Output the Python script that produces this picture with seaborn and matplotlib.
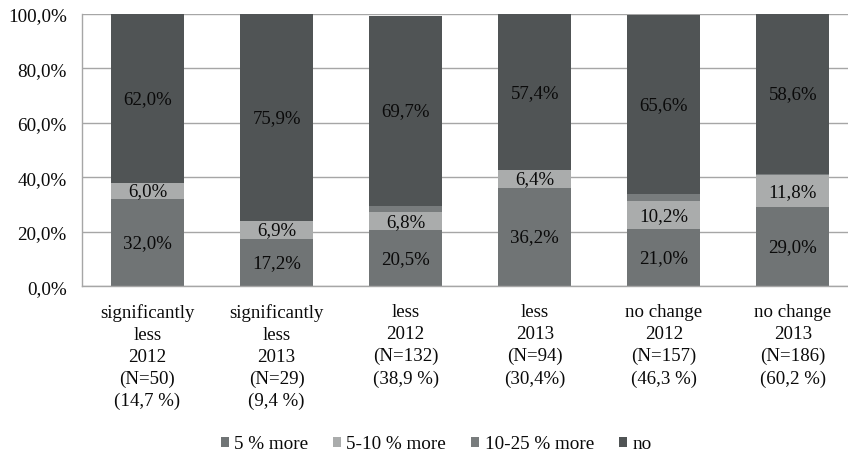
import matplotlib
matplotlib.use("Agg")
import matplotlib.pyplot as plt
import seaborn as sns
import numpy as np
import pandas as pd

groups = [
    "significantly\nless\n2012\n(N=50)\n(14,7 %)",
    "significantly\nless\n2013\n(N=29)\n(9,4 %)",
    "less\n2012\n(N=132)\n(38,9 %)",
    "less\n2013\n(N=94)\n(30,4%)",
    "no change\n2012\n(N=157)\n(46,3 %)",
    "no change\n2013\n(N=186)\n(60,2 %)",
]
series = ["5 % more", "5-10 % more", "10-25 % more", "no"]
more_5 = [32.0, 17.2, 20.5, 36.2, 21.0, 29.0]
more_5_10 = [6.0, 6.9, 6.8, 6.4, 10.2, 11.8]
more_10_25 = [0.0, 0.0, 2.3, 0.0, 2.7, 0.6]
no_more = [62.0, 75.9, 69.7, 57.4, 65.6, 58.6]
# which series carry printed values
labelled = [True, True, False, True]
colors = ["#707475", "#aaacac", "#787c7d", "#505455"]

values = [more_5, more_5_10, more_10_25, no_more]

sns.set_style("white")
plt.rcParams["font.family"] = ["Liberation Serif", "DejaVu Serif"]

fig = plt.figure(figsize=(8.48, 4.52), dpi=100)
ax = fig.add_axes([82 / 848, 1 - 287.3 / 452, 774.6 / 848, 272.3 / 452])

bottom = np.zeros(len(groups))
for name, vals, col, show in zip(series, values, colors, labelled):
    df = pd.DataFrame({"group": groups, "value": vals})
    n_before = len(ax.containers)
    sns.barplot(data=df, x="group", y="value", color=col, saturation=1,
                width=0.565, bottom=bottom.copy(), label=name, ax=ax,
                edgecolor="none", linewidth=0)
    cont = ax.containers[n_before]
    texts = [(f"{v:.1f}%".replace(".", ",") if show and v > 0 else "")
             for v in vals]
    ax.bar_label(cont, labels=texts, label_type="center", fontsize=13.6,
                 color="#0a0a0a")
    bottom = bottom + np.array(vals)

ax.set_xlim(-0.507, 5.493)
ax.set_ylim(0, 100)
ax.set_yticks(np.arange(0, 101, 20))
ax.set_yticklabels([f"{v:.1f}%".replace(".", ",") for v in np.arange(0, 101, 20)],
                   fontsize=13.8, color="#0a0a0a")
ax.set_xlabel("")
ax.set_ylabel("")
ax.tick_params(axis="x", labelsize=13.6, pad=12, length=0, labelcolor="#0a0a0a")
ax.tick_params(axis="y", pad=11, length=0)
for lab in ax.get_xticklabels():
    lab.set_linespacing(1.38)
ax.grid(axis="y", color="#a6a6a6", linewidth=1)
ax.set_axisbelow(True)
for side in ["top", "right"]:
    ax.spines[side].set_visible(False)
for side in ["left", "bottom"]:
    ax.spines[side].set_color("#a6a6a6")
    ax.spines[side].set_linewidth(1)

if ax.get_legend() is not None:
    ax.get_legend().remove()
handles, labels = ax.get_legend_handles_labels()
fig.legend(handles, labels, loc="center", bbox_to_anchor=(436 / 848, 1 - 445 / 452),
           ncol=4, frameon=False, fontsize=13.8, handlelength=0.42, handleheight=0.42,
           handletextpad=0.28, columnspacing=1.3, borderaxespad=0, borderpad=0,
           labelcolor="#0a0a0a")

fig.savefig("out.png", dpi=100)
